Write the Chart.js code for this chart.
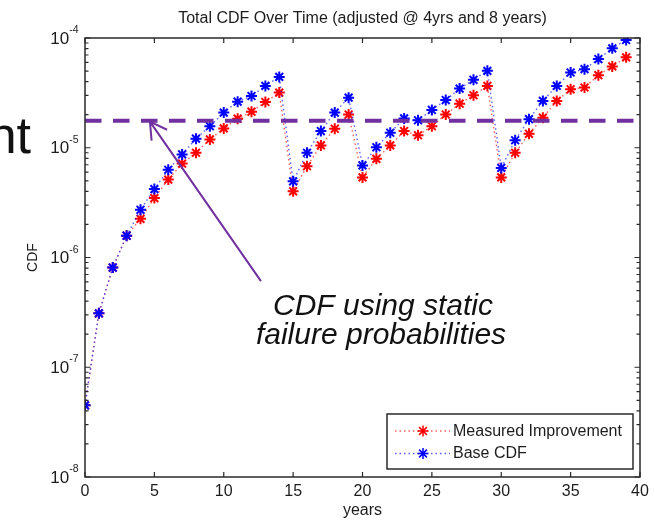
<!DOCTYPE html>
<html>
<head>
<meta charset="utf-8">
<script src="https://cdn.jsdelivr.net/npm/chart.js@4/dist/chart.umd.min.js"></script>
<style>
  html, body { margin: 0; padding: 0; background: #fff; }
  canvas { display: block; }
</style>
</head>
<body>
<canvas id="c" width="655" height="521"></canvas>
<script>
// years 0..39
const years = [0,1,2,3,4,5,6,7,8,9,10,11,12,13,14,15,16,17,18,19,
               20,21,22,23,24,25,26,27,28,29,30,31,32,33,34,35,36,37,38,39];

// Base CDF (blue)
const baseCdf = [4.5e-8, 3.1e-7, 8.1e-7, 1.58e-6, 2.72e-6, 4.2e-6, 6.3e-6, 8.7e-6, 1.21e-5, 1.57e-5,
                 2.09e-5, 2.63e-5, 2.96e-5, 3.66e-5, 4.42e-5, 4.94e-6, 9.0e-6, 1.42e-5, 2.09e-5, 2.86e-5,
                 6.9e-6, 1.01e-5, 1.37e-5, 1.85e-5, 1.78e-5, 2.21e-5, 2.72e-5, 3.46e-5, 4.16e-5, 5.02e-5,
                 6.55e-6, 1.17e-5, 1.82e-5, 2.67e-5, 3.66e-5, 4.85e-5, 5.2e-5, 6.43e-5, 8.05e-5, 9.59e-5];

// Measured Improvement (red)
const measured = [4.5e-8, 3.1e-7, 8.1e-7, 1.58e-6, 2.25e-6, 3.48e-6, 5.13e-6, 7.18e-6, 9.0e-6, 1.19e-5,
                  1.50e-5, 1.84e-5, 2.13e-5, 2.61e-5, 3.18e-5, 4.01e-6, 6.79e-6, 1.05e-5, 1.49e-5, 2.01e-5,
                  5.37e-6, 7.92e-6, 1.05e-5, 1.42e-5, 1.30e-5, 1.57e-5, 2.01e-5, 2.52e-5, 3.01e-5, 3.66e-5,
                  5.37e-6, 9.0e-6, 1.34e-5, 1.88e-5, 2.67e-5, 3.41e-5, 3.54e-5, 4.58e-5, 5.51e-5, 6.66e-5];

// CDF with static failure probabilities (dashed line)
const staticCdf = 1.76e-5;

// y ticks: decades with minor ticks 1..9
const yDecades = [-8, -7, -6, -5, -4];
const yMinor = [1,2,3,4,5,6,7,8,9];

const FONT = '"Liberation Sans", Arial, sans-serif';
const INK = '#1c1c1c';
const PURPLE = '#7030A0';

const frame = {
  id: 'frame',
  afterDatasetsDraw(chart) {
    const {ctx, chartArea: a, scales: {x, y}} = chart;
    ctx.save();
    // static CDF line
    const yy = y.getPixelForValue(staticCdf);
    ctx.strokeStyle = PURPLE;
    ctx.lineWidth = 4;
    ctx.setLineDash([16.5, 11.5]);
    ctx.beginPath();
    ctx.moveTo(a.left, yy);
    ctx.lineTo(a.right, yy);
    ctx.stroke();
    ctx.restore();
  },
  afterDraw(chart) {
    const {ctx, chartArea: a, scales: {x, y}} = chart;
    ctx.save();
    // axes box
    ctx.strokeStyle = '#2a2a2a';
    ctx.lineWidth = 1.5;
    ctx.strokeRect(a.left, a.top, a.right - a.left, a.bottom - a.top);
    ctx.lineWidth = 1.2;
    ctx.beginPath();
    x.ticks.forEach(t => {
      const px = x.getPixelForValue(t.value);
      ctx.moveTo(px, a.bottom); ctx.lineTo(px, a.bottom - 5);
      ctx.moveTo(px, a.top); ctx.lineTo(px, a.top + 5);
    });
    y.ticks.forEach(t => {
      const py = y.getPixelForValue(t.value);
      const m = t.value / Math.pow(10, Math.floor(Math.log10(t.value) + 1e-9));
      const len = Math.abs(m - 1) < 1e-6 ? 5.5 : 3.5;
      ctx.moveTo(a.left, py); ctx.lineTo(a.left + len, py);
      ctx.moveTo(a.right, py); ctx.lineTo(a.right - len, py);
    });
    ctx.stroke();

    // y tick labels 10^n
    ctx.fillStyle = INK;
    ctx.textBaseline = 'alphabetic';
    yDecades.forEach(e => {
      const py = y.getPixelForValue(Math.pow(10, e));
      const ex = String(e);
      ctx.font = '10.5px ' + FONT;
      const ew = ctx.measureText(ex).width;
      ctx.textAlign = 'right';
      ctx.fillText(ex, 78.5, py - 5);
      ctx.font = '17px ' + FONT;
      ctx.fillText('10', 78.5 - ew, py + 5.5);
    });

    // legend
    const lx = 387, ly = 414, lw = 246, lh = 55;
    ctx.fillStyle = '#fff';
    ctx.fillRect(lx, ly, lw, lh);
    ctx.strokeStyle = '#2a2a2a';
    ctx.lineWidth = 1.5;
    ctx.strokeRect(lx, ly, lw, lh);
    chart.data.datasets.forEach((ds, i) => {
      const ry = ly + 17 + i * 22.5;
      ctx.save();
      ctx.strokeStyle = ds.borderColor;
      ctx.lineWidth = ds.borderWidth;
      ctx.setLineDash(ds.borderDash);
      ctx.beginPath();
      ctx.moveTo(lx + 8, ry); ctx.lineTo(lx + 63, ry);
      ctx.stroke();
      ctx.restore();
      ctx.strokeStyle = ds.pointBorderColor;
      ctx.fillStyle = ds.pointBorderColor;
      Chart.helpers.drawPoint(ctx, {pointStyle: 'star', radius: ds.pointRadius,
        borderWidth: ds.pointBorderWidth, rotation: 0}, lx + 36, ry);
      ctx.fillStyle = INK;
      ctx.font = '16px ' + FONT;
      ctx.textAlign = 'left';
      ctx.textBaseline = 'middle';
      ctx.fillText(ds.label, lx + 66, ry + 0.5);
    });

    // arrow to the static CDF line
    const tipX = x.getPixelForValue(4.68), tipY = y.getPixelForValue(1.73e-5);
    const tailX = x.getPixelForValue(12.68), tailY = y.getPixelForValue(6.1e-7);
    const ang = Math.atan2(tailY - tipY, tailX - tipX);
    ctx.strokeStyle = PURPLE;
    ctx.lineWidth = 2;
    ctx.setLineDash([]);
    ctx.beginPath();
    ctx.moveTo(tailX, tailY); ctx.lineTo(tipX, tipY);
    [-0.52, 0.52].forEach(d => {
      ctx.moveTo(tipX, tipY);
      ctx.lineTo(tipX + 19 * Math.cos(ang + d), tipY + 19 * Math.sin(ang + d));
    });
    ctx.stroke();

    // annotation text
    ctx.fillStyle = '#111';
    ctx.font = 'italic 30px ' + FONT;
    ctx.textAlign = 'center';
    ctx.textBaseline = 'alphabetic';
    ctx.fillText('CDF using static', 383, 315);
    ctx.fillText('failure probabilities', 381, 344);

    // clipped slide text at left
    ctx.font = '52px ' + FONT;
    ctx.textAlign = 'right';
    ctx.fillText('nt', 31, 153);
    ctx.restore();
  }
};

const pts = arr => years.map((yr, i) => ({x: yr, y: arr[i]}));

new Chart(document.getElementById('c'), {
  type: 'line',
  data: {
    datasets: [
      {
        label: 'Measured Improvement',
        data: pts(measured),
        order: 1,
        borderColor: 'rgba(255,40,40,0.75)',
        borderWidth: 1.4,
        borderDash: [1.5, 3],
        pointStyle: 'star',
        pointRadius: 5.5,
        pointBorderWidth: 2,
        pointBorderColor: '#ff0000',
        pointBackgroundColor: '#ff0000'
      },
      {
        label: 'Base CDF',
        data: pts(baseCdf),
        order: 0,
        borderColor: 'rgba(40,40,255,0.75)',
        borderWidth: 1.4,
        borderDash: [1.5, 3],
        pointStyle: 'star',
        pointRadius: 5.5,
        pointBorderWidth: 2,
        pointBorderColor: '#0000ff',
        pointBackgroundColor: '#0000ff'
      }
    ]
  },
  options: {
    responsive: false,
    animation: false,
    layout: { padding: { left: 0, right: 15, top: 0, bottom: 0 } },
    plugins: {
      legend: { display: false },
      tooltip: { enabled: false },
      title: {
        display: true,
        text: 'Total CDF Over Time (adjusted @ 4yrs and 8 years)',
        fullSize: false,
        color: INK,
        font: { family: FONT, size: 16, weight: 'normal' },
        padding: { top: 9.4, bottom: 9.4 }
      }
    },
    scales: {
      x: {
        type: 'linear',
        min: 0,
        max: 40,
        ticks: { stepSize: 5, color: INK, padding: 5, font: { family: FONT, size: 16 } },
        grid: { display: false, drawTicks: false },
        border: { display: false },
        title: { display: true, text: 'years', color: INK,
                 font: { family: FONT, size: 16 }, padding: { top: 0, bottom: 0.5 } },
        afterFit: s => { s.height = 44; }
      },
      y: {
        type: 'logarithmic',
        min: 1e-8,
        max: 1e-4,
        ticks: { display: false },
        grid: { display: false, drawTicks: false },
        border: { display: false },
        title: { display: true, text: 'CDF', color: INK,
                 font: { family: FONT, size: 14 }, padding: { top: 25, bottom: 0 } },
        afterBuildTicks: s => {
          const t = [];
          yDecades.forEach(e => yMinor.forEach(m => {
            const v = m * Math.pow(10, e);
            if (v <= 1.0001e-4) t.push({ value: v });
          }));
          s.ticks = t;
        },
        afterFit: s => { s.width = 85; }
      }
    }
  },
  plugins: [frame]
});
</script>
</body>
</html>
